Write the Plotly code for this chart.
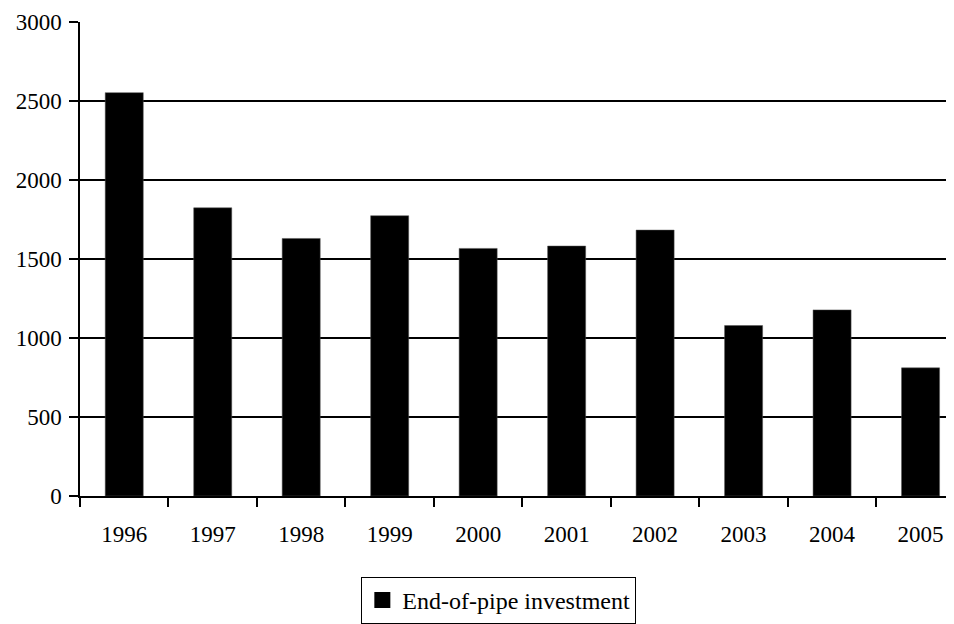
import plotly.graph_objects as go

years = ["1996", "1997", "1998", "1999", "2000", "2001", "2002", "2003", "2004", "2005"]
investment = [2553, 1824, 1630, 1774, 1567, 1582, 1683, 1079, 1178, 811]
series_name = "End-of-pipe investment"
y_ticks = [0, 500, 1000, 1500, 2000, 2500, 3000]

FONT = "Liberation Serif, Times New Roman, serif"

fig = go.Figure()
fig.add_trace(go.Bar(
    x=years, y=investment, name=series_name,
    marker=dict(color="black", line=dict(color="#555", width=0.5)),
    width=0.43, showlegend=False,
))
fig.add_trace(go.Scatter(
    x=[None], y=[None], mode="markers", name=series_name,
    marker=dict(symbol="square", size=18, color="black"),
    showlegend=True,
))

fig.update_layout(
    width=946, height=616,
    margin=dict(l=71.5, r=0, t=14, b=127.3, pad=0),
    paper_bgcolor="white", plot_bgcolor="white",
    font=dict(family=FONT, size=23, color="black"),
    legend=dict(
        x=0.3219, y=-0.1713, xanchor="left", yanchor="top",
        orientation="h", bordercolor="black", borderwidth=1,
        font=dict(family=FONT, size=24, color="black"),
        itemsizing="trace",
        tracegroupgap=0,
    ),
    xaxis=dict(
        type="category",
        range=[-0.5, 9.378],
        showline=True, linecolor="black", linewidth=1.5,
        ticks="outside", ticklen=9, tickwidth=1.5, tickcolor="black",
        tickson="boundaries",
        showgrid=False,
        ticklabelstandoff=17,
        tickfont=dict(family=FONT, size=23, color="black"),
    ),
    yaxis=dict(
        range=[0, 3000],
        tickvals=y_ticks,
        showline=True, linecolor="black", linewidth=1.5,
        ticks="outside", ticklen=9, tickwidth=1.5, tickcolor="black",
        showgrid=True, gridcolor="black", gridwidth=2,
        zeroline=False,
        ticklabelstandoff=3,
        tickfont=dict(family=FONT, size=23, color="black"),
    ),
)

fig.write_html("out.html")
